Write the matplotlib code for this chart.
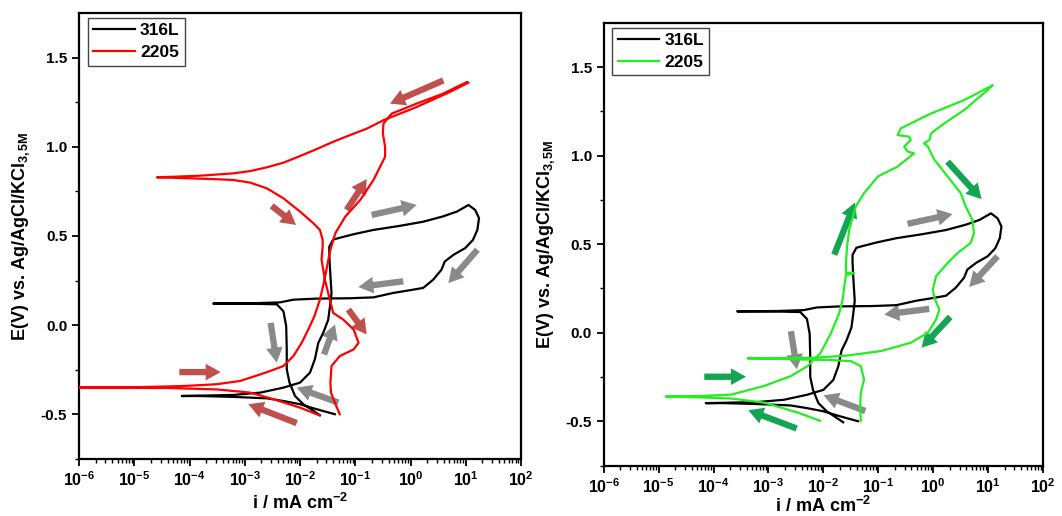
import numpy as np
import matplotlib
matplotlib.use("Agg")
import matplotlib.pyplot as plt
from matplotlib.ticker import LogLocator, FixedLocator, NullFormatter, FuncFormatter

plt.rcParams['font.family'] = ['Liberation Sans', 'DejaVu Sans']
plt.rcParams['mathtext.fontset'] = 'custom'
plt.rcParams['mathtext.rm'] = 'Liberation Sans:bold'
plt.rcParams['mathtext.bf'] = 'Liberation Sans:bold'
plt.rcParams['mathtext.it'] = 'Liberation Sans:bold'

# ---------------- data (log10 of current density in mA cm-2, potential in V) -------------
logi_316L = [-1.37, -1.70, -2.00, -2.30, -2.60, -3.21, -3.81, -4.14, -3.81, -3.21, -2.72,
             -2.30, -2.00, -1.82, -1.73, -1.67, -1.58, -1.49, -1.46, -1.43, -1.46, -1.47,
             -1.47, -1.40, -1.28, -1.03, -0.67, -0.19, 0.23, 0.59, 0.84, 1.05, 1.17, 1.24,
             1.21, 1.13, 0.99, 0.78, 0.62, 0.56, 0.41, 0.23, -0.01, -0.31, -0.67, -1.10,
             -1.70, -2.12, -2.36, -2.84, -3.57, -2.84, -2.42, -2.30, -2.25, -2.24, -2.24,
             -2.19, -2.09, -1.94, -1.64]
E_316L = [-0.499, -0.471, -0.443, -0.425, -0.410, -0.402, -0.397, -0.397, -0.395, -0.391, -0.378,
          -0.350, -0.322, -0.266, -0.190, -0.100, -0.043, 0.030, 0.100, 0.180, 0.330, 0.400,
          0.440, 0.480, 0.490, 0.510, 0.534, 0.557, 0.580, 0.610, 0.637, 0.674, 0.646, 0.600,
          0.534, 0.478, 0.432, 0.395, 0.357, 0.311, 0.255, 0.209, 0.196, 0.181, 0.156, 0.151,
          0.149, 0.143, 0.128, 0.123, 0.121, 0.120, 0.117, 0.078, -0.006, -0.136, -0.248,
          -0.322, -0.397, -0.443, -0.505]

logi_2205_a = [-1.65, -2.00, -2.48, -2.90, -3.51, -4.41,
               -6.30, -5.02, -4.11, -3.51, -3.09, -2.72,
               -2.48, -2.30, -2.12, -1.97, -1.85, -1.74,
               -1.64, -1.57, -1.51, -1.45, -1.36, -1.18,
               -0.91, -0.67, -0.52, -0.46, -0.46, -0.50,
               -0.49, -0.34, 0.11, 0.59, 1.02, 1.05,
               0.71, 0.11, -0.49, -0.79, -1.10, -1.40,
               -1.70, -2.00, -2.30, -2.60, -2.90, -3.21,
               -3.81, -4.29, -4.59, -3.57, -3.21, -2.90,
               -2.60, -2.30, -2.00, -1.76, -1.64, -1.59,
               -1.59, -1.61, -1.55, -1.46, -1.40, -1.22,
               -1.03, -0.94, -1.03, -1.28, -1.43, -1.45,
               -1.44, -1.37, -1.28]
E_2205_a = [-0.505, -0.462, -0.415, -0.378, -0.360, -0.352,
            -0.350, -0.348, -0.341, -0.331, -0.313, -0.276,
            -0.250, -0.229, -0.173, -0.099, -0.024, 0.050,
            0.143, 0.236, 0.330, 0.423, 0.516, 0.609,
            0.702, 0.814, 0.907, 0.944, 1.000, 1.074,
            1.130, 1.186, 1.242, 1.298, 1.363, 1.360,
            1.307, 1.223, 1.149, 1.102, 1.065, 1.028,
            0.987, 0.948, 0.911, 0.885, 0.864, 0.851,
            0.838, 0.832, 0.829, 0.819, 0.814, 0.799,
            0.767, 0.711, 0.637, 0.572, 0.534, 0.479,
            0.441, 0.367, 0.255, 0.143, 0.069, 0.032,
            -0.024, -0.099, -0.136, -0.173, -0.229, -0.322,
            -0.378, -0.434, -0.499]

logi_2205_b = [-2.06, -2.47, -3.08, -3.68, -4.29, -4.87,
               -4.29, -3.68, -3.08, -2.59, -2.29, -2.05,
               -1.86, -1.71, -1.65, -1.62, -1.59, -1.50,
               -1.44, -1.59, -1.59, -1.57, -1.53, -1.41,
               -1.26, -1.01, -0.65, -0.35, -0.47, -0.53,
               -0.41, -0.44, -0.65, -0.59, -0.04, 0.56,
               1.05, 1.08, 0.99, 0.56, 0.20, -0.04,
               -0.07, -0.17, -0.10, 0.02, 0.26, 0.50,
               0.59, 0.71, 0.74, 0.68, 0.44, 0.26,
               0.05, -0.01, 0.02, 0.11, 0.05, -0.10,
               -0.41, -0.95, -1.56, -2.17, -3.38, -2.47,
               -1.86, -1.50, -1.32, -1.26, -1.32, -1.33,
               -1.32]
E_2205_b = [-0.497, -0.450, -0.394, -0.371, -0.364, -0.360,
            -0.357, -0.349, -0.300, -0.244, -0.188, -0.113,
            0.000, 0.113, 0.188, 0.263, 0.328, 0.330,
            0.338, 0.340, 0.394, 0.488, 0.582, 0.713,
            0.788, 0.882, 0.938, 1.013, 1.023, 1.051,
            1.088, 1.107, 1.116, 1.154, 1.238, 1.313,
            1.392, 1.398, 1.370, 1.257, 1.182, 1.126,
            1.088, 1.069, 1.051, 0.976, 0.882, 0.788,
            0.713, 0.638, 0.563, 0.507, 0.450, 0.394,
            0.319, 0.244, 0.197, 0.131, 0.075, 0.000,
            -0.056, -0.103, -0.128, -0.141, -0.144, -0.150,
            -0.154, -0.160, -0.188, -0.263, -0.338, -0.413,
            -0.497]

x_tick_exponents = [-6, -5, -4, -3, -2, -1, 0, 1, 2]
y_ticks = [-0.5, 0.0, 0.5, 1.0, 1.5]
series_labels = ['316L', '2205']

# arrows: (log i tail, E tail, log i head, E head)
arrows_left_red = [(0.594, 1.372, -0.371, 1.242), (-2.513, 0.669, -2.072, 0.562),
                   (-1.155, 0.646, -0.793, 0.819), (-1.125, 0.088, -0.793, -0.052),
                   (-4.184, -0.263, -3.436, -0.263), (-2.06, -0.549, -2.935, -0.443)]
arrows_left_grey = [(-0.703, 0.618, 0.112, 0.674), (1.21, 0.423, 0.685, 0.236),
                    (-0.13, 0.246, -0.944, 0.214), (-2.531, 0.013, -2.422, -0.21),
                    (-1.566, -0.164, -1.367, 0.004), (-1.306, -0.434, -2.06, -0.35)]
arrows_right_green = [(0.259, 0.966, 0.878, 0.754), (-1.803, 0.441, -1.427, 0.735),
                      (0.308, 0.09, -0.214, -0.084), (-4.168, -0.248, -3.41, -0.248),
                      (-2.488, -0.54, -3.368, -0.437)]
arrows_right_grey = [(-0.469, 0.615, 0.35, 0.67), (1.169, 0.432, 0.653, 0.259),
                     (-0.074, 0.135, -0.893, 0.103), (-2.591, 0.009, -2.482, -0.206),
                     (-1.239, -0.441, -1.997, -0.353)]

RED_ARROW = '#c0504d'
GREY_ARROW = '#8a8a8a'
GREEN_ARROW = '#14a554'

fig = plt.figure(figsize=(10.62, 5.16), dpi=100)
axL = fig.add_axes([0.0744, 0.1105, 0.4162, 0.8643])
axR = fig.add_axes([0.5684, 0.0975, 0.4139, 0.8585])


def fmt_x(v, pos):
    e = int(round(np.log10(v)))
    return r'$\mathbf{10^{%d}}$' % e


def style_axis(ax, xlabelpad):
    ax.set_xscale('log')
    ax.set_xlim(1e-6, 1e2)
    ax.set_ylim(-0.75, 1.75)
    ax.xaxis.set_major_locator(FixedLocator([10.0 ** e for e in x_tick_exponents]))
    ax.xaxis.set_minor_locator(LogLocator(base=10, subs=np.arange(2, 10), numticks=100))
    ax.xaxis.set_major_formatter(FuncFormatter(fmt_x))
    ax.xaxis.set_minor_formatter(NullFormatter())
    ax.yaxis.set_major_locator(FixedLocator(y_ticks))
    ax.yaxis.set_minor_locator(FixedLocator([-0.75, -0.25, 0.25, 0.75, 1.25]))
    ax.yaxis.set_major_formatter(FuncFormatter(lambda v, p: '%.1f' % v))
    ax.tick_params(which='major', direction='out', length=5, width=1.3, labelsize=11,
                   top=False, right=False, colors='black')
    ax.tick_params(which='minor', direction='out', length=3, width=1.0, top=False, right=False)
    for lab in ax.get_yticklabels():
        lab.set_fontweight('bold')
    ax.tick_params(axis='x', labelsize=11.5, pad=3)
    for sp in ax.spines.values():
        sp.set_linewidth(1.6)
    ax.set_xlabel(r'i / mA cm$^{\mathbf{-2}}$', fontsize=13, fontweight='bold',
                  labelpad=xlabelpad)
    ax.set_ylabel(r'E(V) vs. Ag/AgCl/KCl$_{\mathbf{3,5M}}$', fontsize=13, fontweight='bold',
                  labelpad=6)


def draw_arrows(ax, arrows, color):
    for (x0, y0, x1, y1) in arrows:
        ax.annotate('', xy=(10 ** x1, y1), xytext=(10 ** x0, y0),
                    arrowprops=dict(arrowstyle='simple,head_length=0.9,head_width=1.0,tail_width=0.38',
                                    color=color, shrinkA=0, shrinkB=0, mutation_scale=12,
                                    lw=0), zorder=1)


i316 = 10 ** np.array(logi_316L)
iA = 10 ** np.array(logi_2205_a)
iB = 10 ** np.array(logi_2205_b)

axL.plot(i316, E_316L, color='black', lw=1.6, label=series_labels[0], zorder=3)
axL.plot(iA, E_2205_a, color='#ff0000', lw=1.6, label=series_labels[1], zorder=4)
draw_arrows(axL, arrows_left_red, RED_ARROW)
draw_arrows(axL, arrows_left_grey, GREY_ARROW)

axR.plot(i316, E_316L, color='black', lw=1.6, label=series_labels[0], zorder=3)
axR.plot(iB, E_2205_b, color='#22ee22', lw=1.6, label=series_labels[1], zorder=4)
draw_arrows(axR, arrows_right_green, GREEN_ARROW)
draw_arrows(axR, arrows_right_grey, GREY_ARROW)

for ax, pad in ((axL, 3), (axR, 0)):
    style_axis(ax, pad)
    leg = ax.legend(loc='upper left', bbox_to_anchor=(0.02, 0.989), borderaxespad=0,
                    fancybox=False, edgecolor='#444444', framealpha=1, handlelength=2.4,
                    handletextpad=0.3, borderpad=0.3, labelspacing=0.4,
                    prop={'weight': 'bold', 'size': 12.5})
    leg.get_frame().set_linewidth(1.0)

fig.savefig('out.png', dpi=100)
